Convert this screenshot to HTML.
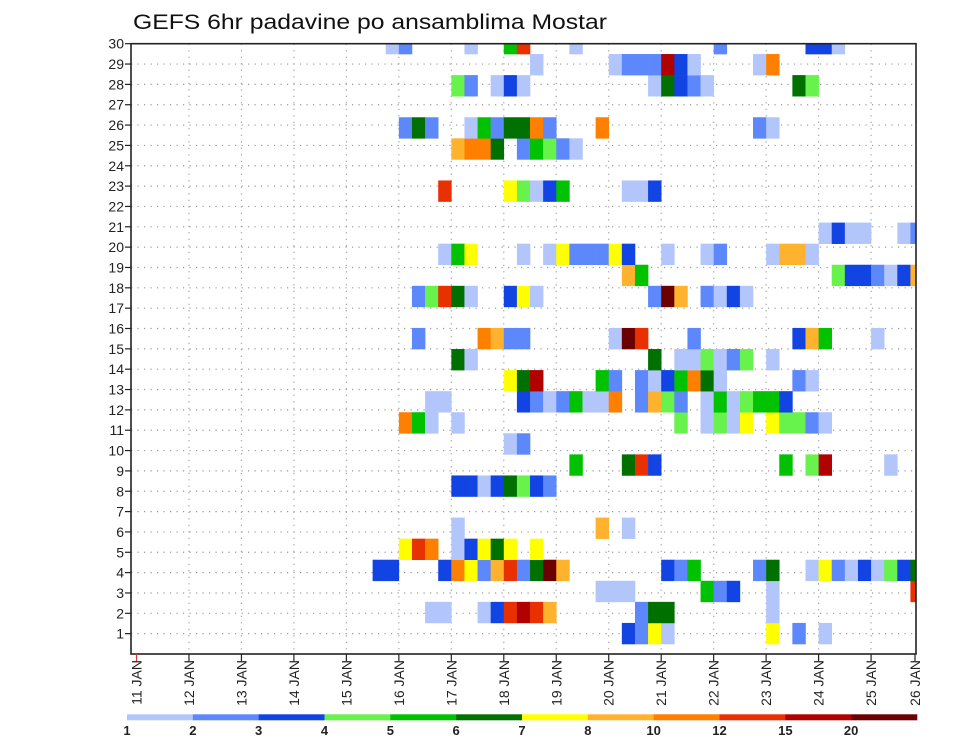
<!DOCTYPE html>
<html><head><meta charset="utf-8">
<style>
html,body{margin:0;padding:0;background:#fff;}
svg{display:block;font-family:"Liberation Sans",sans-serif;}
</style></head>
<body>
<svg id="chart" width="960" height="742" viewBox="0 0 960 742" xmlns="http://www.w3.org/2000/svg">
  <text x="133" y="29" font-size="21" textLength="474" lengthAdjust="spacingAndGlyphs" fill="#111">GEFS 6hr padavine po ansamblima Mostar</text>
  <defs><clipPath id="plotclip"><rect x="131" y="43.7" width="785" height="610.3"/></clipPath></defs>
  <g id="grid"></g>
  <g id="cells" clip-path="url(#plotclip)"></g>
  <rect x="131" y="43.7" width="785" height="610.3" fill="none" stroke="#222" stroke-width="1.6"/>
  <g id="yaxis"></g>
  <g id="xaxis"></g>
  <g id="legend"></g>
</svg>
<script>
// ---- data ----
const dayLabels = ["11 JAN","12 JAN","13 JAN","14 JAN","15 JAN","16 JAN","17 JAN","18 JAN","19 JAN","20 JAN","21 JAN","22 JAN","23 JAN","24 JAN","25 JAN","26 JAN"];
const memberLabels = [1,2,3,4,5,6,7,8,9,10,11,12,13,14,15,16,17,18,19,20,21,22,23,24,25,26,27,28,29,30];
const legendThresholds = [1,2,3,4,5,6,7,8,10,12,15,20];
const legendColors = ["#b3c6fb","#5d88fb","#1243e3","#68f24c","#00c200","#007100","#ffff00","#ffb22e","#ff8000","#e83000","#b00000","#6c0000"];
// precipitation (mm / 6h) per ensemble member: "step:value" pairs, step = 6h index from 11 JAN 00Z
const members = {
 29:"19:1.5 20:2.5 25:1.5 28:5.5 29:13 33:1.5 44:2.5 51:3.5 52:3.5 53:1.5",
 28:"30:1.5 36:1.5 37:2.5 38:2.5 39:2.5 40:17 41:3.5 42:1.5 47:1.5 48:11",
 27:"24:4.5 25:2.5 27:1.5 28:3.5 29:1.5 39:1.5 40:6.5 41:3.5 42:2.5 43:1.5 50:6.5 51:4.5",
 26:"",
 25:"20:2.5 21:6.5 22:2.5 25:1.5 26:5.5 27:2.5 28:6.5 29:6.5 30:11 31:2.5 35:11 47:2.5 48:1.5",
 24:"24:9 25:11 26:11 27:6.5 29:2.5 30:5.5 31:4.5 32:2.5 33:1.5",
 23:"",
 22:"23:13 28:7.5 29:4.5 30:1.5 31:3.5 32:5.5 37:1.5 38:1.5 39:3.5",
 21:"",
 20:"52:1.5 53:3.5 54:1.5 55:1.5 58:1.5 59:2.5",
 19:"23:1.5 24:5.5 25:7.5 29:1.5 31:1.5 32:7.5 33:2.5 34:2.5 35:2.5 36:7.5 37:3.5 40:1.5 43:1.5 44:2.5 48:1.5 49:9 50:9 51:1.5",
 18:"37:9 38:5.5 53:4.5 54:3.5 55:3.5 56:2.5 57:1.5 58:3.5 59:9",
 17:"21:2.5 22:4.5 23:13 24:6.5 25:1.5 28:3.5 29:7.5 30:1.5 39:2.5 40:22 41:9 43:2.5 44:1.5 45:3.5 46:1.5",
 16:"",
 15:"21:2.5 26:11 27:9 28:2.5 29:2.5 36:1.5 37:22 38:13 42:2.5 50:3.5 51:9 52:5.5 56:1.5",
 14:"24:6.5 25:1.5 39:6.5 41:1.5 42:1.5 43:4.5 44:1.5 45:2.5 46:4.5 48:1.5",
 13:"28:7.5 29:6.5 30:17 35:5.5 36:2.5 38:2.5 39:1.5 40:3.5 41:5.5 42:11 43:6.5 44:1.5 50:2.5 51:1.5",
 12:"22:1.5 23:1.5 29:3.5 30:2.5 31:1.5 32:2.5 33:5.5 34:1.5 35:1.5 36:11 38:2.5 39:9 40:4.5 41:2.5 43:1.5 44:5.5 45:1.5 46:4.5 47:5.5 48:5.5 49:3.5",
 11:"20:11 21:5.5 22:1.5 24:1.5 41:4.5 43:1.5 44:4.5 45:1.5 46:7.5 48:7.5 49:4.5 50:4.5 51:2.5 52:1.5",
 10:"28:1.5 29:2.5",
 9:"33:5.5 37:6.5 38:13 39:3.5 49:5.5 51:4.5 52:17 57:1.5",
 8:"24:3.5 25:3.5 26:1.5 27:3.5 28:6.5 29:4.5 30:3.5 31:2.5",
 7:"",
 6:"24:1.5 35:9 37:1.5",
 5:"20:7.5 21:13 22:11 24:1.5 25:3.5 26:7.5 27:6.5 28:7.5 30:7.5",
 4:"18:3.5 19:3.5 23:3.5 24:11 25:7.5 26:2.5 27:9 28:13 29:2.5 30:6.5 31:22 32:9 40:3.5 41:2.5 42:5.5 47:2.5 48:6.5 51:1.5 52:7.5 53:2.5 54:1.5 55:3.5 56:1.5 57:4.5 58:3.5 59:6.5",
 3:"35:1.5 36:1.5 37:1.5 43:5.5 44:2.5 45:3.5 48:1.5 59:13",
 2:"22:1.5 23:1.5 26:1.5 27:3.5 28:13 29:17 30:13 31:9 38:2.5 39:6.5 40:6.5 48:1.5",
 1:"37:3.5 38:2.5 39:7.5 40:1.5 48:7.5 50:2.5 52:1.5"
};

// ---- scales ----
const NS="http://www.w3.org/2000/svg";
const X0=136.5, DAY=52.47, STEP=DAY/4;
const PLOT_L=131, PLOT_R=916, PLOT_T=43.7, PLOT_B=654;
const ROWP=(PLOT_B-PLOT_T)/30;
const CELLB=644, CELLH=21.07;
function xDay(d){return X0+d*DAY;}
function xStep(s){return X0+s*STEP;}
function yRow(r){return PLOT_B-r*ROWP;}
function yCellTop(m){return CELLB-m*CELLH;}
function colorFor(v){let c=null;for(let i=0;i<legendThresholds.length;i++){if(v>=legendThresholds[i])c=legendColors[i];}return c;}
function mk(tag,attrs,parent){const e=document.createElementNS(NS,tag);for(const k in attrs)e.setAttribute(k,attrs[k]);parent.appendChild(e);return e;}

// grid
const grid=document.getElementById('grid');
memberLabels.forEach(r=>{ if(r>=30) return;
  const l=mk('line',{x1:PLOT_L,x2:PLOT_R,y1:yRow(r),y2:yRow(r),stroke:'#999','stroke-width':1.2,'stroke-dasharray':'1.2,5.3'},grid);
  
  
});
dayLabels.forEach((d,i)=>{ if(i===0||i===dayLabels.length-1) return;
  const l=mk('line',{x1:xDay(i),x2:xDay(i),y1:PLOT_T,y2:PLOT_B,stroke:'#999','stroke-width':1.2,'stroke-dasharray':'1.2,5.3'},grid);
  
  
});

// cells
const cells=document.getElementById('cells');
Object.keys(members).forEach(m=>{
  const s=members[m].trim(); if(!s) return;
  s.split(/\s+/).forEach(p=>{
    const [st,v]=p.split(':').map(Number);
    const col=colorFor(v); if(!col) return;
    const r=mk('rect',{x:xStep(st),y:yCellTop(+m),width:STEP+0.3,height:CELLH+0.3,fill:col},cells);
    
    
  });
});

// y axis
const ya=document.getElementById('yaxis');
memberLabels.forEach(r=>{
  const t=mk('line',{x1:125,x2:PLOT_L,y1:yRow(r),y2:yRow(r),stroke:'#222','stroke-width':1.2},ya);
  
  
  const tx=mk('text',{x:124,y:yRow(r)+5,'text-anchor':'end','font-size':14,fill:'#222'},ya);
  tx.textContent=r;
  
  
});

// x axis
const xa=document.getElementById('xaxis');
dayLabels.forEach((d,i)=>{
  const x=Math.min(xDay(i),915);
  const t=mk('line',{x1:x,x2:x,y1:PLOT_B,y2:PLOT_B+7,stroke:i===0?'#d33':'#222','stroke-width':1.2},xa);
  
  
  const tx=mk('text',{transform:`translate(${x+5},${PLOT_B+6}) rotate(-90)`,'text-anchor':'end','font-size':14,fill:'#222'},xa);
  tx.textContent=d;
  
  
});

// legend
const lg=document.getElementById('legend');
const LX0=127, LX1=917, LW=(LX1-LX0)/legendColors.length;
legendColors.forEach((c,i)=>{
  const r=mk('rect',{x:LX0+i*LW,y:714.3,width:LW+0.3,height:6,fill:c},lg);
  
  
});
legendThresholds.forEach((v,i)=>{
  const tx=mk('text',{x:LX0+i*LW,y:735,'text-anchor':'middle','font-size':13,'font-weight':'bold',fill:'#222'},lg);
  tx.textContent=v;
  
  
});
</script>
</body></html>
